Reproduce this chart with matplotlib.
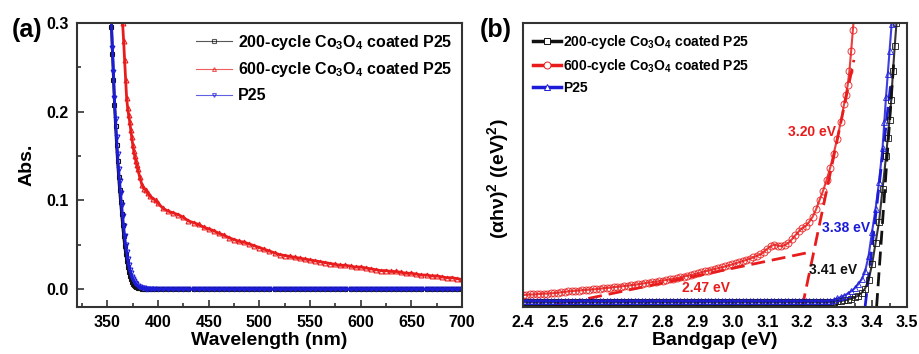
#!/usr/bin/env python3
"""UV-vis absorbance and Tauc plots for Co3O4-coated P25 samples."""

import matplotlib

matplotlib.use("Agg")
import matplotlib.pyplot as plt
from matplotlib.ticker import MultipleLocator, NullLocator

RED = "#e81c1c"
BLUE = "#1c1cd8"
BLACK = "#111111"
SPINE = "#333333"

LABELS = (
    r"200-cycle Co$_3$O$_4$ coated P25",
    r"600-cycle Co$_3$O$_4$ coated P25",
    "P25",
)

# --- (a) absorbance vs wavelength -------------------------------------------
P25_WL = [354, 355, 356, 357, 358, 359, 360, 361, 362, 363, 364, 365, 366, 367,
          368, 369, 370, 371, 372, 373, 374, 375, 376, 377, 378, 380, 382, 384,
          386, 388, 390, 393, 396, 400, 405, 410, 415, 420, 425, 430, 435, 440,
          445, 450, 455, 460, 465, 470, 475, 480, 485, 490, 495, 500, 505, 510,
          515, 520, 525, 530, 535, 540, 545, 550, 555, 560, 565, 570, 575, 580,
          585, 590, 595, 600, 605, 610, 615, 620, 625, 630, 635, 640, 645, 650,
          655, 660, 665, 670, 675, 680, 685, 690, 695, 700]
P25_ABS = [0.300, 0.272, 0.245, 0.215, 0.192, 0.172, 0.152, 0.136, 0.122, 0.108,
           0.095, 0.083, 0.071, 0.060, 0.050, 0.042, 0.034, 0.027, 0.022, 0.018,
           0.014, 0.011, 0.009, 0.007, 0.0055, 0.0035, 0.0025, 0.0017, 0.0011,
           0.0007, 0.0004, 0.0002, 0.0001,
           0.0, 0.0, 0.0, 0.0, 0.0, 0.0, 0.0, 0.0, 0.0, 0.0, 0.0, 0.0, 0.0, 0.0,
           0.0, 0.0, 0.0, 0.0, 0.0, 0.0, 0.0, 0.0, 0.0, 0.0, 0.0, 0.0, 0.0, 0.0,
           0.0, 0.0, 0.0, 0.0, 0.0, 0.0, 0.0, 0.0, 0.0, 0.0, 0.0, 0.0, 0.0, 0.0,
           0.0, 0.0, 0.0, 0.0, 0.0, 0.0, 0.0, 0.0, 0.0, 0.0, 0.0, 0.0, 0.0, 0.0,
           0.0, 0.0, 0.0, 0.0, 0.0]
C200_ABS = [0.295, 0.265, 0.236, 0.208, 0.184, 0.163, 0.144, 0.127, 0.112, 0.098,
            0.085, 0.072, 0.060, 0.049, 0.040, 0.032, 0.025, 0.019, 0.015, 0.011,
            0.008, 0.006, 0.0045, 0.0035, 0.0025, 0.0015, 0.001, 0.0006, 0.0003,
            0.0002, 0.0001, 0.0, 0.0,
            0.0, 0.0, 0.0, 0.0, 0.0, 0.0, 0.0, 0.0, 0.0, 0.0, 0.0, 0.0, 0.0, 0.0,
            0.0, 0.0, 0.0, 0.0, 0.0, 0.0, 0.0, 0.0, 0.0, 0.0, 0.0, 0.0, 0.0, 0.0,
            0.0, 0.0, 0.0, 0.0, 0.0, 0.0, 0.0, 0.0, 0.0, 0.0, 0.0, 0.0, 0.0, 0.0,
            0.0, 0.0, 0.0, 0.0, 0.0, 0.0, 0.0, 0.0, 0.0, 0.0, 0.0, 0.0, 0.0, 0.0,
            0.0, 0.0, 0.0, 0.0, 0.0]

C600_WL = [365, 366, 367, 368, 369, 370, 371, 372, 373, 374, 375, 376, 377, 378,
           379, 380, 382, 384, 386, 388, 390, 392, 395, 398, 400, 405, 410, 415,
           420, 425, 430, 435, 440, 445, 450, 455, 460, 465, 470, 475, 480, 485,
           490, 495, 500, 505, 510, 515, 520, 525, 530, 535, 540, 545, 550, 555,
           560, 565, 570, 575, 580, 585, 590, 595, 600, 605, 610, 615, 620, 625,
           630, 635, 640, 645, 650, 655, 660, 665, 670, 675, 680, 685, 690, 695,
           700]
C600_ABS = [0.300, 0.280, 0.258, 0.236, 0.215, 0.204, 0.196, 0.189, 0.180, 0.171,
            0.163, 0.156, 0.150, 0.145, 0.140, 0.135, 0.126, 0.118, 0.113, 0.112,
            0.108, 0.105, 0.102, 0.100, 0.097, 0.091, 0.088, 0.086, 0.084, 0.081,
            0.077, 0.075, 0.073, 0.070, 0.068, 0.066, 0.063, 0.061, 0.058, 0.056,
            0.054, 0.053, 0.051, 0.049, 0.047, 0.045, 0.043, 0.041, 0.039, 0.038,
            0.037, 0.036, 0.035, 0.034, 0.033, 0.032, 0.031, 0.030, 0.029, 0.028,
            0.027, 0.027, 0.026, 0.025, 0.025, 0.024, 0.023, 0.022, 0.021, 0.021,
            0.020, 0.020, 0.019, 0.018, 0.018, 0.017, 0.016, 0.016, 0.015, 0.015,
            0.014, 0.013, 0.013, 0.012, 0.011]

# --- (b) Tauc plot, (alpha h nu)^2 in arbitrary units ------------------------
# shared 0.01 eV grid over the flat part of the spectra
FLAT_EV = [2.40, 2.41, 2.42, 2.43, 2.44, 2.45, 2.46, 2.47, 2.48, 2.49,
           2.50, 2.51, 2.52, 2.53, 2.54, 2.55, 2.56, 2.57, 2.58, 2.59,
           2.60, 2.61, 2.62, 2.63, 2.64, 2.65, 2.66, 2.67, 2.68, 2.69,
           2.70, 2.71, 2.72, 2.73, 2.74, 2.75, 2.76, 2.77, 2.78, 2.79,
           2.80, 2.81, 2.82, 2.83, 2.84, 2.85, 2.86, 2.87, 2.88, 2.89,
           2.90, 2.91, 2.92, 2.93, 2.94, 2.95, 2.96, 2.97, 2.98, 2.99,
           3.00, 3.01, 3.02, 3.03, 3.04, 3.05, 3.06, 3.07, 3.08, 3.09,
           3.10, 3.11, 3.12, 3.13, 3.14, 3.15, 3.16, 3.17, 3.18, 3.19,
           3.20]

C600_EV = FLAT_EV + [3.21, 3.22, 3.23, 3.24, 3.25, 3.26, 3.27, 3.28, 3.29,
                     3.30, 3.31, 3.32, 3.325, 3.33, 3.335, 3.34, 3.345, 3.35]
C600_TAUC = [0.042, 0.043, 0.044, 0.044, 0.045, 0.046, 0.047, 0.047, 0.048, 0.049,
             0.050, 0.052, 0.053, 0.055, 0.056, 0.057, 0.058, 0.059, 0.060, 0.061,
             0.062, 0.063, 0.064, 0.066, 0.067, 0.068, 0.070, 0.071, 0.072, 0.074,
             0.075, 0.077, 0.078, 0.080, 0.082, 0.084, 0.086, 0.087, 0.089, 0.091,
             0.093, 0.095, 0.097, 0.099, 0.101, 0.104, 0.107, 0.110, 0.112, 0.115,
             0.118, 0.122, 0.125, 0.128, 0.131, 0.134, 0.137, 0.140, 0.143, 0.147,
             0.150, 0.154, 0.158, 0.162, 0.166, 0.170, 0.175, 0.180, 0.185, 0.194,
             0.205, 0.214, 0.220, 0.216, 0.214, 0.218, 0.225, 0.238, 0.252, 0.266,
             0.278,
             0.285, 0.300, 0.318, 0.345, 0.378, 0.410, 0.448, 0.490, 0.540,
             0.592, 0.650, 0.715, 0.748, 0.780, 0.830, 0.900, 0.975, 1.050]

P25_EV = FLAT_EV + [3.21, 3.22, 3.23, 3.24, 3.25, 3.26, 3.27, 3.28, 3.29,
                    3.30, 3.31, 3.32, 3.33, 3.34, 3.35, 3.36, 3.37, 3.38, 3.39,
                    3.40, 3.41, 3.42, 3.43, 3.435, 3.44, 3.445, 3.45, 3.456]
P25_TAUC = [0.021, 0.021, 0.021, 0.021, 0.021, 0.021, 0.021, 0.021, 0.021, 0.021,
            0.021, 0.021, 0.021, 0.021, 0.021, 0.021, 0.021, 0.021, 0.021, 0.021,
            0.021, 0.021, 0.021, 0.021, 0.021, 0.021, 0.021, 0.021, 0.021, 0.021,
            0.021, 0.021, 0.021, 0.021, 0.021, 0.021, 0.021, 0.021, 0.021, 0.021,
            0.021, 0.021, 0.021, 0.021, 0.021, 0.021, 0.021, 0.021, 0.021, 0.021,
            0.021, 0.021, 0.021, 0.021, 0.021, 0.021, 0.021, 0.021, 0.021, 0.021,
            0.021, 0.021, 0.021, 0.021, 0.021, 0.021, 0.021, 0.021, 0.021, 0.021,
            0.021, 0.021, 0.021, 0.021, 0.021, 0.021, 0.021, 0.021, 0.021, 0.021,
            0.021,
            0.021, 0.021, 0.021, 0.021, 0.021, 0.021, 0.021, 0.022, 0.025,
            0.030, 0.035, 0.040, 0.047, 0.055, 0.066, 0.080, 0.097, 0.125, 0.180,
            0.265, 0.345, 0.440, 0.560, 0.650, 0.740, 0.820, 0.900, 0.995]

C200_EV = FLAT_EV + [3.21, 3.22, 3.23, 3.24, 3.25, 3.26, 3.27, 3.28, 3.29,
                     3.30, 3.31, 3.32, 3.33, 3.34, 3.35, 3.36, 3.37, 3.38, 3.39,
                     3.40, 3.41, 3.42, 3.43, 3.44, 3.445, 3.45, 3.455, 3.46,
                     3.465, 3.47]
C200_TAUC = [0.019, 0.019, 0.019, 0.019, 0.019, 0.019, 0.019, 0.019, 0.019, 0.019,
             0.019, 0.019, 0.019, 0.019, 0.019, 0.019, 0.019, 0.019, 0.019, 0.019,
             0.019, 0.019, 0.019, 0.019, 0.019, 0.019, 0.019, 0.019, 0.019, 0.019,
             0.019, 0.019, 0.019, 0.019, 0.019, 0.019, 0.019, 0.019, 0.019, 0.019,
             0.019, 0.019, 0.019, 0.019, 0.019, 0.019, 0.019, 0.019, 0.019, 0.019,
             0.019, 0.019, 0.019, 0.019, 0.019, 0.019, 0.019, 0.019, 0.019, 0.019,
             0.019, 0.019, 0.019, 0.019, 0.019, 0.019, 0.019, 0.019, 0.019, 0.019,
             0.019, 0.019, 0.019, 0.019, 0.019, 0.019, 0.019, 0.019, 0.019, 0.019,
             0.019,
             0.019, 0.019, 0.019, 0.019, 0.019, 0.019, 0.019, 0.019, 0.019,
             0.020, 0.021, 0.023, 0.026, 0.029, 0.034, 0.040, 0.050, 0.065, 0.095,
             0.150, 0.225, 0.300, 0.415, 0.530, 0.595, 0.660, 0.730, 0.830,
             0.920, 1.000]

# tangent lines used to read the band gaps: (x0, y0, x1, y1)
FIT_LINES = {
    "c600_tail": ((2.47, 0.0, 3.23, 0.195), RED),
    "c600_edge": ((3.20, 0.0, 3.348, 0.87), RED),
    "p25_edge": ((3.38, 0.0, 3.455, 0.80), BLUE),
    "c200_edge": ((3.413, 0.0, 3.462, 0.86), BLACK),
}
GAP_LABELS = [
    ("3.20 eV", 3.227, 0.617, RED),
    ("3.38 eV", 3.325, 0.277, BLUE),
    ("3.41 eV", 3.289, 0.130, BLACK),
    ("2.47 eV", 2.923, 0.066, RED),
]


def style_axes(ax):
    for spine in ax.spines.values():
        spine.set_color(SPINE)
        spine.set_linewidth(1.5)
    ax.tick_params(which="both", direction="in", top=False, right=False,
                   labelsize=11.5, width=1.2, color=SPINE)
    ax.tick_params(which="major", length=5, pad=6)
    ax.tick_params(which="minor", length=3)


def plot_absorbance(ax):
    series = [
        (P25_WL, C200_ABS, BLACK, "s", LABELS[0]),
        (C600_WL, C600_ABS, RED, "^", LABELS[1]),
        (P25_WL, P25_ABS, BLUE, "v", LABELS[2]),
    ]
    for wl, ab, color, marker, label in series:
        ax.plot(wl, ab, color=color, lw=2.0, marker=marker, ms=3.5,
                mfc="none", mec=color, mew=0.8, label=label)

    ax.set_xlim(320, 700)
    ax.set_ylim(-0.02, 0.3)
    ax.xaxis.set_major_locator(MultipleLocator(50))
    ax.xaxis.set_minor_locator(MultipleLocator(25))
    ax.yaxis.set_major_locator(MultipleLocator(0.1))
    ax.yaxis.set_minor_locator(MultipleLocator(0.05))
    ax.set_xlabel("Wavelength (nm)", fontsize=14, fontweight="bold", labelpad=1)
    ax.set_ylabel("Abs.", fontsize=14, fontweight="bold", labelpad=8)
    style_axes(ax)

    leg = ax.legend(loc="upper right", frameon=False, fontsize=11.5,
                    handlelength=2.2, handletextpad=0.4, labelspacing=0.55,
                    borderaxespad=0.2, markerscale=0.8)
    for line in leg.get_lines():
        line.set_linewidth(0.8)
        line.set_alpha(0.7)


def plot_tauc(ax):
    for (x0, y0, x1, y1), color in FIT_LINES.values():
        ax.plot([x0, x1], [y0, y1], color=color, lw=2, ls=(0, (5, 2.5)))

    series = [
        (C200_EV, C200_TAUC, BLACK, "s", LABELS[0]),
        (C600_EV, C600_TAUC, RED, "o", LABELS[1]),
        (P25_EV, P25_TAUC, BLUE, "^", LABELS[2]),
    ]
    for ev, tauc, color, marker, label in series:
        ax.plot(ev, tauc, color=color, lw=1.5, marker=marker, ms=5,
                mfc="none", mec=color, mew=0.7, alpha=0.85, label=label)

    for text, x, y, color in GAP_LABELS:
        ax.text(x, y, text, color=color, fontsize=10, fontweight="bold",
                ha="center", va="center")

    ax.set_xlim(2.4, 3.5)
    ax.set_ylim(0, 1.0)
    ax.xaxis.set_major_locator(MultipleLocator(0.1))
    ax.xaxis.set_minor_locator(MultipleLocator(0.05))
    ax.yaxis.set_major_locator(NullLocator())
    ax.set_xlabel("Bandgap (eV)", fontsize=14, fontweight="bold", labelpad=1)
    ax.set_ylabel("(\u03b1h\u03bd)$^2$ ((eV)$^2$)", fontsize=14,
                  fontweight="bold")
    ax.yaxis.set_label_coords(-0.03, 0.45)
    style_axes(ax)

    leg = ax.legend(loc="upper left", frameon=False, fontsize=10,
                    handlelength=2.0, handletextpad=0.2, labelspacing=0.45,
                    borderaxespad=0.3)
    for line in leg.get_lines():
        line.set_linewidth(2.5)
        line.set_alpha(1.0)
        line.set_markerfacecolor("white")


def main():
    plt.rcParams["font.family"] = ["Liberation Sans", "DejaVu Sans"]
    plt.rcParams["font.weight"] = "bold"
    plt.rcParams["mathtext.fontset"] = "custom"
    plt.rcParams["mathtext.rm"] = "Liberation Sans:bold"
    plt.rcParams["mathtext.it"] = "Liberation Sans:bold:italic"
    plt.rcParams["mathtext.bf"] = "Liberation Sans:bold"

    fig = plt.figure(figsize=(9.19, 3.54), dpi=100)
    ax_a = fig.add_axes([0.0838, 0.1328, 0.4189, 0.8022])
    ax_b = fig.add_axes([0.5691, 0.1328, 0.4178, 0.8022])

    plot_absorbance(ax_a)
    plot_tauc(ax_b)

    fig.text(0.029, 0.915, "(a)", fontsize=18, fontweight="bold",
             ha="center", va="center")
    fig.text(0.539, 0.915, "(b)", fontsize=18, fontweight="bold",
             ha="center", va="center")

    fig.savefig("out.png", dpi=100)
    plt.close(fig)


if __name__ == "__main__":
    main()
